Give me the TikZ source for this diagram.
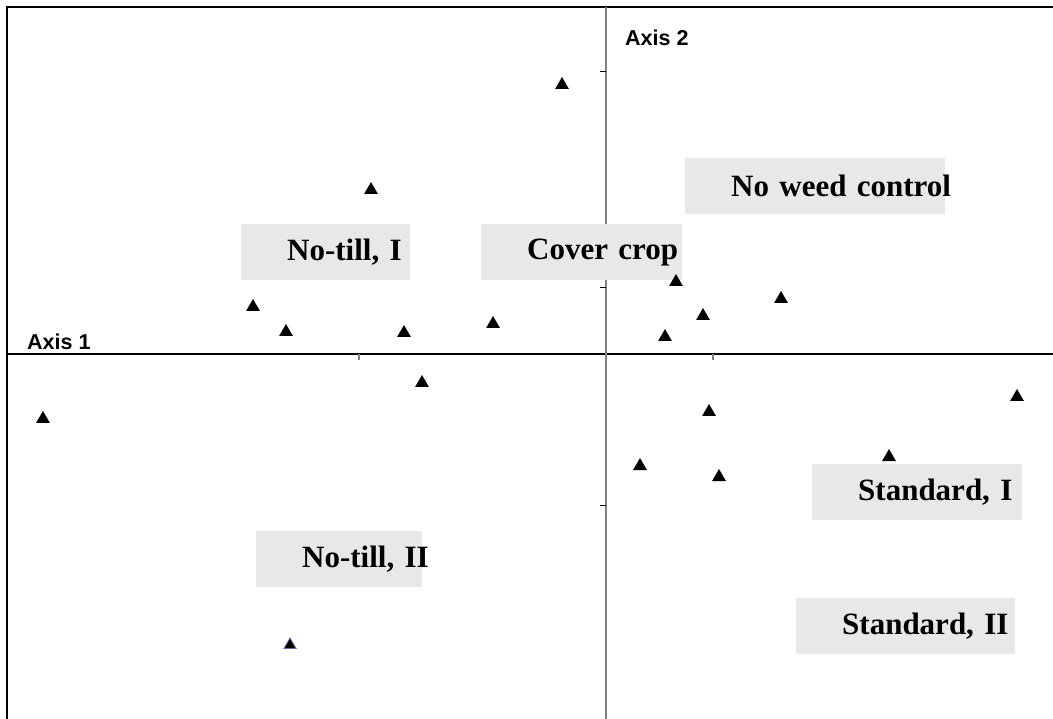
\documentclass[tikz,border=0pt]{standalone}
\usepackage{fontspec}
\setmainfont{Liberation Serif}
\setsansfont{Liberation Sans}
\usetikzlibrary{shapes.geometric}
\definecolor{boxgray}{HTML}{E8E8E8}
\definecolor{axisgray}{HTML}{808080}
\definecolor{edgeblue}{HTML}{6A6AA8}
\tikzset{
    obs/.style={regular polygon,regular polygon sides=3,fill=black,inner sep=0pt,minimum size=16pt},
    catbox/.style={anchor=north west,fill=boxgray,inner xsep=0pt,inner ysep=0pt,minimum height=56pt,align=left,
                   font=\fontsize{31}{36}\selectfont\bfseries},
    axislabel/.style={anchor=base west,inner sep=0pt,font=\sffamily\bfseries\fontsize{21.5}{24}\selectfont},
    frameline/.style={line width=1.6pt},
}
\newcommand{\catlabel}[1]{\mbox{\hspace*{46pt}#1}}

\begin{document}
\begin{tikzpicture}[x=1pt,y=-1pt]
\useasboundingbox (0,0) rectangle (1053,719);

 % frame
 \coordinate (fbl) at (7,719);
 \coordinate (ftl) at (7,7);
 \coordinate (ftr) at (1053,7);
 \draw [frameline] (fbl)--(ftl)--(ftr);

 % axes
 \coordinate (ax1w) at (7,354);
 \coordinate (ax1e) at (1053,354);
 \coordinate (ax2n) at (606,7);
 \coordinate (ax2s) at (606,719);
 \draw [line width=1.2pt] (ax1w)--(ax1e);
 \draw [axisgray,line width=1.6pt] (ax2n)--(ax2s);
 \foreach \ty in {72,288,505}
    \draw [line width=1pt] (600,\ty)--(606,\ty);
 \foreach \tx in {359,713}
    \draw [axisgray,line width=1.4pt] (\tx,354)--(\tx,360);

 \node [axislabel] (axisone) at (27,350) {Axis 1};
 \node [axislabel] (axistwo) at (625,46) {Axis 2};

 % category labels
 \node [catbox,text width=169pt] (notillI)  at (241,224) {\catlabel{No-till, I}};
 \node [catbox,text width=201pt] (cover)    at (481,224) {\catlabel{Cover crop}};
 \node [catbox,text width=260pt] (noweed)   at (685,158) {\catlabel{No weed control}};
 \node [catbox,text width=210pt] (stdI)     at (812,464) {\catlabel{Standard, I}};
 \node [catbox,text width=166pt] (notillII) at (256,531) {\catlabel{No-till, II}};
 \node [catbox,text width=219pt] (stdII)    at (796,598) {\catlabel{Standard, II}};

 % sites
 \foreach \px/\py [count=\i] in {562/85,371/190,253/307,286/332,404/333,493/324,676/282,665/337,
                                 703/316,781/299,422/383,43/419,709/412,1017/397,640/466,719/477,889/457}
    \node [obs] (site\i) at (\px,\py) {};
 \node [obs,draw=edgeblue,line width=0.8pt,minimum size=14pt] (site18) at (290,645) {};

\end{tikzpicture}
\end{document}
